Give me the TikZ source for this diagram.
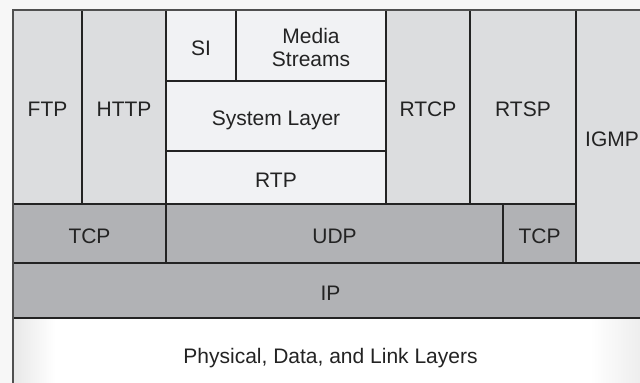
\documentclass[tikz,border=0pt]{standalone}
\usepackage{fontspec}
\setmainfont{Liberation Sans}

\definecolor{appgray}{HTML}{DCDDDF}
\definecolor{mediagray}{HTML}{F1F2F4}
\definecolor{netgray}{HTML}{B1B2B5}
\definecolor{framegray}{HTML}{505050}
\definecolor{inkgray}{HTML}{232323}

\tikzset{
  cell/.style={draw=inkgray, line width=1pt},
  frame/.style={draw=framegray, line width=1pt},
  tag/.style={font=\fontsize{10.5pt}{11.7pt}\selectfont, text=inkgray, align=center,
    text height=.98em, text depth=0pt, inner sep=0pt},
}

\begin{document}
\begin{tikzpicture}[x=.5pt, y=-.5pt]
\newcommand\layer[8][]{%
\draw [cell, fill=#7] (#3, #4) rectangle (#5, #6);%
\node (#2) at ({(#3+#5)/2}, {(#4+#6)/2}) [tag, #1] {#8};%
}
\useasboundingbox [fill=black!3] (0, 0) rectangle (640, 383);

% application protocols
\layer{ftp}{13}{10}{82}{204}{appgray}{FTP}
\layer{http}{82}{10}{166}{204}{appgray}{HTTP}
\layer{si}{166}{10}{236}{81}{mediagray}{SI}
\layer[yshift=-5.85pt]{media}{236}{10}{386}{81}{mediagray}{Media\\Streams}
\layer{syslayer}{166}{81}{386}{151}{mediagray}{System Layer}
\layer{rtp}{166}{151}{386}{204}{mediagray}{RTP}
\layer{rtcp}{386}{10}{470}{204}{appgray}{RTCP}
\layer{rtsp}{470}{10}{576}{204}{appgray}{RTSP}
\layer{igmp}{576}{10}{648}{263}{appgray}{IGMP}

% transport and network
\layer{tcpleft}{13}{204}{166}{263}{netgray}{TCP}
\layer{udp}{166}{204}{503}{263}{netgray}{UDP}
\layer{tcpright}{503}{204}{576}{263}{netgray}{TCP}
\layer{ip}{13}{263}{648}{318}{netgray}{IP}

% bottom layer, a little shadow at the sides
\layer{phys}{13}{318}{648}{390}{white}{Physical, Data, and Link Layers}
\shade [left color=black!9, right color=white] (14, 320) rectangle (55, 389);
\shade [left color=white, right color=black!7] (590, 320) rectangle (641, 389);

\draw [frame] (13, 390) -- (13, 10) -- (648, 10);
\end{tikzpicture}
\end{document}
